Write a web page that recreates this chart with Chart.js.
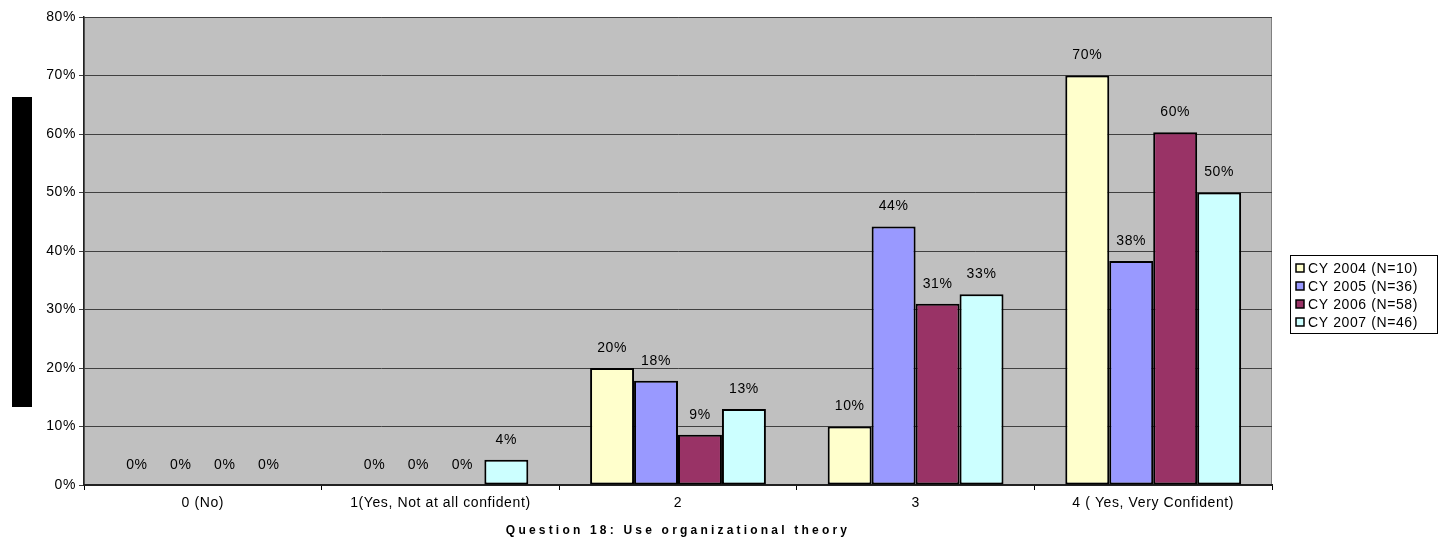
<!DOCTYPE html>
<html>
<head>
<meta charset="utf-8">
<script src="https://cdn.jsdelivr.net/npm/chart.js@4.4.0/dist/chart.umd.min.js"></script>
<style>
  html, body { margin: 0; padding: 0; background: #fff; }
  #wrap { width: 1444px; height: 548px; }
</style>
</head>
<body>
<div id="wrap"><canvas id="chart1" width="1444" height="548"></canvas></div>
<script>
// categories and series (percent of respondents)
var categories = ["0 (No)", "1(Yes, Not at all confident)", "2", "3", "4 ( Yes, Very Confident)"];
var seriesNames = ["CY 2004 (N=10)", "CY 2005 (N=36)", "CY 2006 (N=58)", "CY 2007 (N=46)"];
var cy2004 = [0, 0, 20, 10, 70];
var cy2005 = [0, 0, 17.8, 44.2, 38.3];
var cy2006 = [0, 0, 8.6, 31.0, 60.3];
var cy2007 = [0, 4.3, 13.0, 32.6, 50.0];
var yTicks = [0, 10, 20, 30, 40, 50, 60, 70, 80];
var axisTitle = "Question 18: Use organizational theory";

var colors = ["#FFFFCC", "#9999FF", "#993366", "#CCFFFF"];
var FONT = "'Liberation Sans', Arial, sans-serif";

var bgPlugin = {
  id: "bg",
  beforeDraw: function(chart) {
    var ctx = chart.ctx, a = chart.chartArea;
    ctx.letterSpacing = "0.6px";
    ctx.save();
    ctx.fillStyle = "#C0C0C0";
    ctx.fillRect(a.left, a.top, a.right - a.left, a.bottom - a.top);
    ctx.strokeStyle = "#808080";
    ctx.lineWidth = 1;
    ctx.strokeRect(a.left + 0.5, a.top + 0.5, a.right - a.left - 1, a.bottom - a.top);
    // blacked-out axis title block
    ctx.fillStyle = "#000";
    ctx.fillRect(12, 97, 20, 310);
    ctx.restore();
  }
};

var labelPlugin = {
  id: "barLabels",
  afterDatasetsDraw: function(chart) {
    var ctx = chart.ctx;
    ctx.save();
    ctx.letterSpacing = "0.6px";
    ctx.font = "14px " + FONT;
    ctx.fillStyle = "#000";
    ctx.textAlign = "center";
    ctx.textBaseline = "middle";
    chart.data.datasets.forEach(function(ds, i) {
      chart.getDatasetMeta(i).data.forEach(function(bar, j) {
        ctx.fillText(Math.round(ds.data[j]) + "%", bar.x, bar.y - 20);
      });
    });
    ctx.restore();
  },
  afterDraw: function(chart) {
    var ctx = chart.ctx, a = chart.chartArea;
    ctx.save();
    // axis title
    ctx.letterSpacing = "3.2px";
    ctx.font = "bold 12px " + FONT;
    ctx.fillStyle = "#000";
    ctx.textAlign = "center";
    ctx.textBaseline = "middle";
    ctx.fillText(axisTitle, (a.left + a.right) / 2, 531);
    // legend
    ctx.letterSpacing = "0.6px";
    ctx.fillStyle = "#fff";
    ctx.fillRect(1290, 255, 147, 78);
    ctx.strokeStyle = "#000";
    ctx.lineWidth = 1;
    ctx.strokeRect(1290.5, 255.5, 147, 78);
    ctx.font = "14px " + FONT;
    ctx.textAlign = "left";
    chart.data.datasets.forEach(function(ds, i) {
      var y = 268 + i * 18;
      ctx.fillStyle = ds.backgroundColor;
      ctx.fillRect(1296, y - 4, 8, 8);
      ctx.strokeStyle = "#000";
      ctx.lineWidth = 1.5;
      ctx.strokeRect(1296, y - 4, 8, 8);
      ctx.fillStyle = "#000";
      ctx.fillText(ds.label, 1308, y + 1);
    });
    ctx.restore();
  }
};

new Chart(document.getElementById("chart1"), {
  type: "bar",
  data: {
    labels: categories,
    datasets: [
      { label: seriesNames[0], data: cy2004, backgroundColor: colors[0] },
      { label: seriesNames[1], data: cy2005, backgroundColor: colors[1] },
      { label: seriesNames[2], data: cy2006, backgroundColor: colors[2] },
      { label: seriesNames[3], data: cy2007, backgroundColor: colors[3] }
    ].map(function(d) {
      d.borderColor = "#000";
      d.borderWidth = 2;
      d.borderSkipped = false;
      d.barPercentage = 1;
      d.categoryPercentage = 0.74;
      return d;
    })
  },
  options: {
    responsive: false,
    animation: false,
    devicePixelRatio: 1,
    layout: { padding: { top: 17, right: 172, left: 0, bottom: 0 } },
    plugins: { legend: { display: false }, tooltip: { enabled: false } },
    scales: {
      x: {
        grid: { display: true, drawOnChartArea: false, color: "#000", tickLength: 5, offset: true },
        border: { color: "#222", width: 2 },
        ticks: { color: "#000", font: { size: 14, family: FONT }, maxRotation: 0, autoSkip: false, padding: 5 },
        afterFit: function(s) { s.height = 63; }
      },
      y: {
        min: 0, max: 80,
        afterBuildTicks: function(s) { s.ticks = yTicks.map(function(v) { return { value: v }; }); },
        grid: { color: "#404040", tickLength: 5 },
        border: { color: "#222", width: 1.5 },
        ticks: { color: "#000", font: { size: 14, family: FONT }, padding: 3,
                 callback: function(v) { return v + "%"; } },
        afterFit: function(s) { s.width = 84; }
      }
    }
  },
  plugins: [bgPlugin, labelPlugin]
});
</script>
</body>
</html>
